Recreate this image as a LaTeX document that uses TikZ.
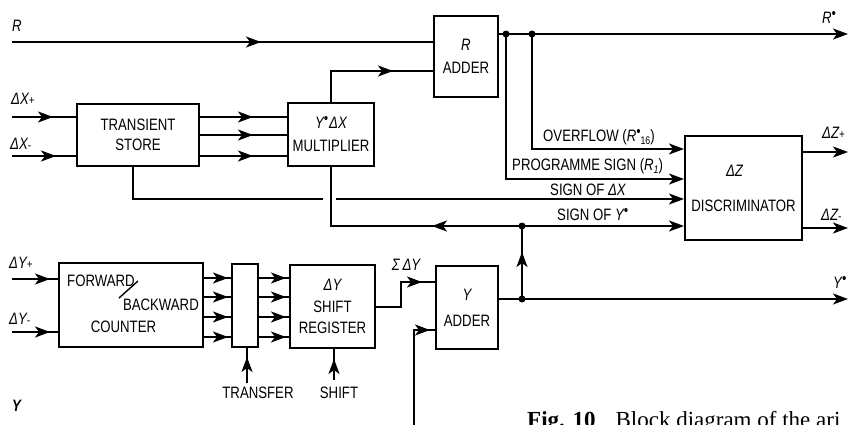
\documentclass[tikz,border=0pt]{standalone}
\usepackage{fontspec}
\setmainfont{Liberation Sans}[FakeStretch=0.8]
\newfontfamily\capfont{Liberation Serif}
\usetikzlibrary{arrows.meta,decorations.markings}
\newcommand\stb{\raisebox{5pt}{\fontsize{15}{15}\selectfont\textbullet}}
\newcommand\smp[1]{{\fontsize{12}{12}\selectfont #1}}
\newcommand\sbs[1]{\raisebox{-3pt}{\fontsize{11}{11}\selectfont #1}}
\begin{document}
\begin{tikzpicture}[x=1pt,y=-1pt,
  every node/.style={font=\fontsize{16.5}{22}\selectfont},
  wire/.style={line width=2pt},
  box/.style={draw,line width=2pt,inner sep=0pt,align=center},
  tipat/.style={decoration={markings,mark=at position #1 with {\arrow{Stealth[length=15pt,width=11pt,inset=4pt]}}},postaction={decorate}},
  endtip/.style={-{Stealth[length=15pt,width=11pt,inset=4pt]}},
  jdot/.style={circle,fill,inner sep=0pt,minimum size=7pt},
  lbl/.style={inner sep=0pt}]
\useasboundingbox (0,0) rectangle (849,424);

% boxes
\node[box,minimum width=64pt,minimum height=81pt,font=\fontsize{16.5}{23}\selectfont] (radd) at (466,56.5) {{\itshape R}\\ADDER};
\node[box,minimum width=122pt,minimum height=62pt,font=\fontsize{16.5}{20}\selectfont] (ts) at (138,135) {TRANSIENT\\STORE};
\node[box,minimum width=86pt,minimum height=63pt,font=\fontsize{16.5}{23}\selectfont] (mult) at (331,134.5) {{\itshape Y\stb\kern1pt ΔX}\\MULTIPLIER};
\node[box,minimum width=117pt,minimum height=104pt,font=\fontsize{16.5}{35}\selectfont] (disc) at (743.5,188) {{\itshape ΔZ}\hspace*{18pt}\\DISCRIMINATOR};
\node[box,minimum width=144pt,minimum height=84pt] (cnt) at (131,305) {};
\node[box,minimum width=26pt,minimum height=83pt] (tr) at (245,305.5) {};
\node[box,minimum width=85pt,minimum height=83pt,font=\fontsize{16.5}{21.5}\selectfont] (sr) at (332.5,306.5) {{\itshape ΔY}\\SHIFT\\REGISTER};
\node[box,minimum width=62pt,minimum height=83pt,font=\fontsize{16.5}{26}\selectfont] (yadd) at (467,307.5) {{\itshape Y}\\ADDER};

% counter text
\node[lbl,anchor=west] (fw) at (67,281) {FORWARD};
\node[lbl,anchor=east] (bw) at (199,305) {BACKWARD};
\node[lbl] (ct) at (123.5,327) {COUNTER};
\draw[line width=1.4pt] (119,298) -- (138,281);

% R path
\coordinate (Rin) at (12,42);
\draw[wire,tipat=249pt] (Rin) -- (Rin -| radd.west);
\draw[wire,tipat=-40pt] (mult.north) |- ([yshift=-14.5pt]radd.west);
\node[jdot] (d1) at (506,34) {};
\node[jdot] (d2) at (532,34) {};
\coordinate (Rout) at (848,34);
\draw[wire,endtip] (radd.east |- Rout) -- (Rout);
\draw[wire,endtip] (d2.center) |- ([yshift=39pt]disc.west);
\draw[wire,endtip] (d1.center) |- ([yshift=9pt]disc.west);

% X inputs
\coordinate (xp) at (12,117);
\coordinate (xm) at (12,156);
\draw[wire,tipat=41pt] (xp) -- (xp -| ts.west);
\draw[wire,tipat=44pt] (xm) -- (xm -| ts.west);
\draw[wire,tipat=-34pt] (ts.east |- xp) -- (mult.west |- xp);
\draw[wire,tipat=-34pt] (ts.east) -- (ts.east -| mult.west);
\draw[wire,tipat=-34pt] (ts.east |- xm) -- (mult.west |- xm);

% sign of dX with gap
\coordinate (gl) at (323,199);
\coordinate (gr) at (336,199);
\draw[wire] ([xshift=-5pt]ts.south) |- (gl);
\draw[wire,endtip] (gr) -- (gr -| disc.west);

% Y* feedback
\node[jdot] (d3) at (522,226) {};
\node[jdot] (d4) at (522,299) {};
\draw[wire,tipat=90pt] (d3.center) -- (d3 -| mult.south) -- (mult.south);
\draw[wire,endtip] (d3.center) -- (d3 -| disc.west);
\draw[wire,tipat=47pt] (d4.center) -- (d3.center);
\coordinate (ys) at (848,299);
\draw[wire,endtip] (yadd.east |- ys) -- (ys);
\coordinate (zp) at (848,152);
\coordinate (zm) at (848,228);
\draw[wire,endtip] (disc.east |- zp) -- (zp);
\draw[wire,endtip] (disc.east |- zm) -- (zm);

% counter chain
\coordinate (yp) at (12,279);
\coordinate (ym) at (12,332);
\draw[wire,tipat=38pt] (yp) -- (yp -| cnt.west);
\draw[wire,tipat=38pt] (ym) -- (ym -| cnt.west);
\foreach \s [count=\i] in {27,8,-12,-32} {
  \coordinate (o\i) at ([yshift=\s pt]cnt.east);
  \draw[wire,tipat=-3pt] (o\i) -- (o\i -| tr.west);
  \draw[wire,tipat=-3pt] (o\i -| tr.east) -- (o\i -| sr.west);
}
\coordinate (trc) at (247,383);
\draw[wire,tipat=-9pt] (trc) -- (trc |- tr.south);
\coordinate (shc) at (334,380);
\draw[wire,tipat=-10pt] (shc) -- (shc |- sr.south);
\draw[wire,tipat=-13pt] (sr.east) -- ++(25,0) |- ([yshift=25.5pt]yadd.west);
\coordinate (yin) at (414,430);
\draw[wire,tipat=-5pt] (yin) |- ([yshift=-22.5pt]yadd.west);

% labels
\node[lbl,anchor=west] (lR) at (12,26) {\itshape R};
\node[lbl,anchor=west] (lxp) at (11,99) {\itshape ΔX\smp{+}};
\node[lbl,anchor=west] (lxm) at (10,144) {\itshape ΔX\smp{-}};
\node[lbl,anchor=west] (lyp) at (9,263) {\itshape ΔY\smp{+}};
\node[lbl,anchor=west] (lym) at (9,319) {\itshape ΔY\smp{-}};
\node[lbl,anchor=west] (lY) at (12,406) {\itshape\bfseries Y};
\node[lbl,anchor=west] (lov) at (543,137) {OVERFLOW ({\itshape R\stb}\sbs{16})};
\node[lbl,anchor=west] (lps) at (512,166) {PROGRAMME SIGN ({\itshape R\sbs{1}})};
\node[lbl,anchor=west] (lsx) at (550,190) {SIGN OF {\itshape ΔX}};
\node[lbl,anchor=west] (lsy) at (557,215) {SIGN OF {\itshape Y\stb}};
\node[lbl,anchor=west] (lzp) at (822,133) {\itshape ΔZ\smp{+}};
\node[lbl,anchor=west] (lzm) at (821,215) {\itshape ΔZ\smp{-}};
\node[lbl,anchor=west] (lrs) at (822,17) {\itshape R\stb};
\node[lbl,anchor=west] (lys) at (833,282) {\itshape Y\stb};
\node[lbl] (lsum) at (406,265) {\itshape Σ\,ΔY};
\node[lbl] (ltr) at (258,393) {TRANSFER};
\node[lbl] (lsh) at (339,393) {SHIFT};
\node[lbl,anchor=base west,font=\capfont\fontsize{23}{23}\selectfont] (cap) at (527,427.5) {\textbf{Fig. 10}\hspace{20pt}Block diagram of the ari};
\end{tikzpicture}
\end{document}
